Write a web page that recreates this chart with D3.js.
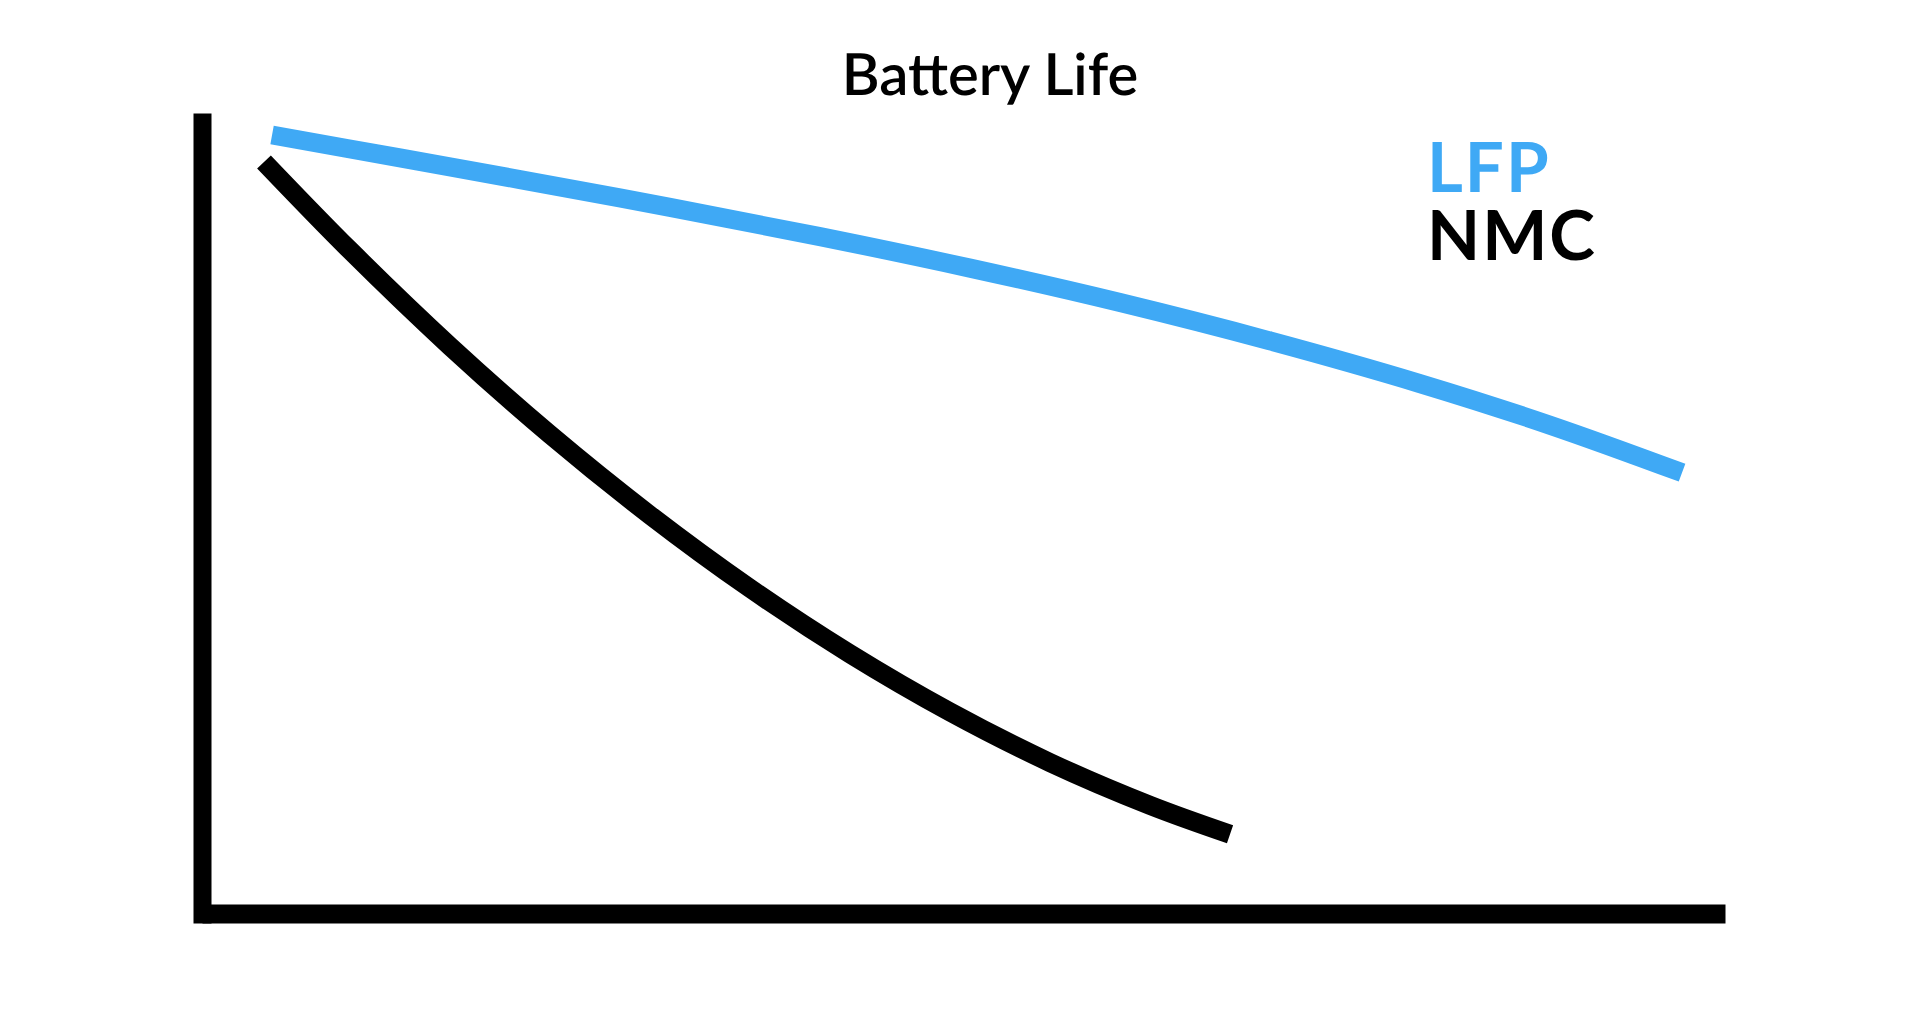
<!DOCTYPE html>
<html>
<head>
<meta charset="utf-8">
<script src="https://cdn.jsdelivr.net/npm/d3@7"></script>
<style>
  html, body { margin: 0; padding: 0; background: #ffffff; }
  svg { display: block; }
  text { text-rendering: geometricPrecision; }
</style>
</head>
<body>
<script>
// ---- Data ----
const title = "Battery Life";
const seriesNames = ["LFP", "NMC"];
const seriesColors = ["#3FA9F5", "#000000"];
// x: time / cycles (arbitrary 0-100), y: remaining capacity (arbitrary 0-100)
const lfpX = [4.6, 13.0, 20.88, 30.73, 40.58, 50.43, 60.28, 70.12, 79.97, 88.51, 97.18];
const lfpY = [97.25, 94.38, 91.68, 88.2, 84.55, 80.61, 76.3, 71.51, 66.18, 60.98, 55.04];
const nmcX = [4.07, 9.72, 16.28, 22.85, 29.42, 35.98, 42.55, 49.11, 55.68, 62.25, 67.5];
const nmcY = [93.88, 82.83, 70.85, 59.81, 49.73, 40.59, 32.39, 25.14, 18.81, 13.46, 9.85];

const W = 1920, H = 1019;
const svg = d3.select("body").append("svg").attr("width", W).attr("height", H);

const x = d3.scaleLinear().domain([0, 100]).range([202, 1725]);
const y = d3.scaleLinear().domain([0, 100]).range([913, 113]);

// Axes (no ticks, thick domain lines)
const xAxis = d3.axisBottom(x).ticks(0).tickSizeOuter(0);
const yAxisScale = d3.scaleLinear().domain([-1.25, 100]).range([923, 113]);
const yAxis = d3.axisLeft(yAxisScale).ticks(0).tickSizeOuter(0);

const gx = svg.append("g").attr("transform", `translate(0,${y(0) + 0.5})`).call(xAxis);
gx.select(".domain").attr("stroke", "#000").attr("stroke-width", 19);
const gy = svg.append("g").attr("transform", `translate(${x(0)},0)`).call(yAxis);
gy.select(".domain").attr("stroke", "#000").attr("stroke-width", 18);
gx.raise();

// Lines
const line = d3.line().x(d => x(d[0])).y(d => y(d[1])).curve(d3.curveCatmullRom.alpha(0.5));
const series = [
  { name: seriesNames[0], color: seriesColors[0], pts: d3.zip(lfpX, lfpY) },
  { name: seriesNames[1], color: seriesColors[1], pts: d3.zip(nmcX, nmcY) }
];
svg.selectAll("path.series").data(series).join("path")
  .attr("class", "series")
  .attr("d", d => line(d.pts))
  .attr("fill", "none")
  .attr("stroke", d => d.color)
  .attr("stroke-width", 19)
  .attr("stroke-linecap", "butt");

// Title
svg.append("text")
  .attr("x", 990).attr("y", 95)
  .attr("text-anchor", "middle")
  .attr("font-family", "Lato, sans-serif")
  .attr("font-weight", 600)
  .attr("font-size", 58)
  .attr("fill", "#000")
  .text(title);

// Legend
svg.selectAll("text.legend").data(series).join("text")
  .attr("class", "legend")
  .attr("x", 1427)
  .attr("y", (d, i) => 192 + i * 68)
  .attr("font-family", "Lato, sans-serif")
  .attr("font-weight", "bold")
  .attr("font-size", 69)
  .attr("letter-spacing", 2)
  .attr("fill", d => d.color)
  .text(d => d.name);
</script>
</body>
</html>
